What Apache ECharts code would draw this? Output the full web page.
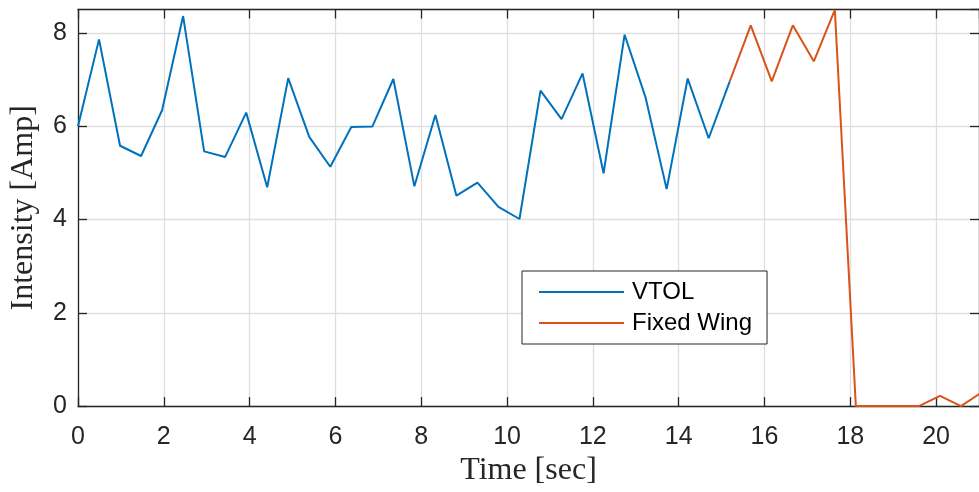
<!DOCTYPE html>
<html>
<head>
<meta charset="utf-8">
<script src="https://cdn.jsdelivr.net/npm/echarts@6/dist/echarts.min.js"></script>
<style>
html,body{margin:0;padding:0;background:#fff;}
#chart{width:979px;height:492px;}
</style>
</head>
<body>
<div id="chart"></div>
<script>
// Time stamps (sec)
var vtolTime = [0, 0.49, 0.98, 1.47, 1.96, 2.45, 2.94, 3.43, 3.92, 4.41, 4.90, 5.39, 5.88, 6.37, 6.86, 7.35, 7.84, 8.33, 8.82, 9.31, 9.80, 10.29, 10.78, 11.27, 11.76, 12.25, 12.74, 13.23, 13.72, 14.21, 14.70, 15.19];
var vtolValues = [6.00, 7.86, 5.58, 5.36, 6.34, 8.36, 5.46, 5.34, 6.29, 4.69, 7.03, 5.77, 5.13, 5.98, 5.99, 7.01, 4.71, 6.24, 4.51, 4.79, 4.27, 4.01, 6.76, 6.15, 7.13, 4.99, 7.96, 6.61, 4.65, 7.02, 5.74, 6.96];
var wingTime = [15.19, 15.68, 16.17, 16.66, 17.15, 17.64, 18.13, 18.62, 19.11, 19.60, 20.09, 20.58, 21.07];
var wingValues = [6.96, 8.16, 6.96, 8.16, 7.39, 8.49, 0, 0, 0, 0, 0.22, 0, 0.30];
var xTicks = [0, 2, 4, 6, 8, 10, 12, 14, 16, 18, 20];
var yTicks = [0, 2, 4, 6, 8];
var seriesNames = ['VTOL', 'Fixed Wing'];
var axisTitles = {x: 'Time [sec]', y: 'Intensity [Amp]'};

function pairs(t, v) { return t.map(function (x, i) { return [x, v[i]]; }); }

var axisColor = '#262626';
var gridColor = '#dedede';
var sans = '"Liberation Sans", Arial, Helvetica, sans-serif';
var serif = '"Liberation Serif", "Times New Roman", serif';

var chart = echarts.init(document.getElementById('chart'), null, {renderer: 'canvas'});
chart.setOption({
  animation: false,
  backgroundColor: '#ffffff',
  grid: {left: 78, top: 9.5, width: 904, height: 397, containLabel: false},
  legend: {
    orient: 'vertical',
    left: 522, top: 271,
    data: seriesNames,
    icon: 'rect',
    itemWidth: 85, itemHeight: 2,
    itemGap: 7,
    padding: [9, 15, 9, 17],
    backgroundColor: '#ffffff',
    borderColor: axisColor, borderWidth: 1,
    textStyle: {fontFamily: sans, fontSize: 24, color: '#000', lineHeight: 24, padding: [0, 0, 0, 3]}
  },
  xAxis: [{
    type: 'value', min: 0, max: 21, interval: 2,
    name: axisTitles.x, nameLocation: 'middle', nameGap: 45,
    nameTextStyle: {fontFamily: serif, fontSize: 32, color: axisColor},
    axisLine: {show: true, onZero: false, lineStyle: {color: axisColor, width: 1.3}},
    axisTick: {show: true, inside: true, length: 9, lineStyle: {color: axisColor, width: 1.3}},
    axisLabel: {fontFamily: sans, fontSize: 25, color: axisColor, margin: 19, showMaxLabel: false,
      formatter: function (v) { return xTicks.indexOf(v) >= 0 ? String(v) : ''; }},
    splitLine: {show: true, lineStyle: {color: gridColor, width: 1.3}}
  }, {
    type: 'value', min: 0, max: 21, interval: 2, position: 'top',
    axisLine: {show: true, onZero: false, lineStyle: {color: axisColor, width: 1.3}},
    axisTick: {show: true, inside: true, length: 9, lineStyle: {color: axisColor, width: 1.3}},
    axisLabel: {show: false}, splitLine: {show: false}
  }],
  yAxis: [{
    type: 'value', min: 0, max: 8.5, interval: 2,
    name: axisTitles.y, nameLocation: 'middle', nameGap: 38,
    nameTextStyle: {fontFamily: serif, fontSize: 32, color: axisColor},
    axisLine: {show: true, onZero: false, lineStyle: {color: axisColor, width: 1.3}},
    axisTick: {show: true, inside: true, length: 9, lineStyle: {color: axisColor, width: 1.3}},
    axisLabel: {fontFamily: sans, fontSize: 25, color: axisColor, margin: 11, showMaxLabel: false,
      formatter: function (v) { return yTicks.indexOf(v) >= 0 ? String(v) : ''; }},
    splitLine: {show: true, lineStyle: {color: gridColor, width: 1.3}}
  }, {
    type: 'value', min: 0, max: 8.5, interval: 2, position: 'right',
    axisLine: {show: true, onZero: false, lineStyle: {color: axisColor, width: 1.3}},
    axisTick: {show: true, inside: true, length: 9, lineStyle: {color: axisColor, width: 1.3}},
    axisLabel: {show: false}, splitLine: {show: false}
  }],
  series: [{
    name: seriesNames[0], type: 'line', data: pairs(vtolTime, vtolValues),
    showSymbol: false, symbol: 'none', clip: true,
    lineStyle: {color: '#0072BD', width: 2}, itemStyle: {color: '#0072BD'}
  }, {
    name: seriesNames[1], type: 'line', data: pairs(wingTime, wingValues),
    showSymbol: false, symbol: 'none', clip: true,
    lineStyle: {color: '#D95319', width: 2}, itemStyle: {color: '#D95319'}
  }]
});
</script>
</body>
</html>
